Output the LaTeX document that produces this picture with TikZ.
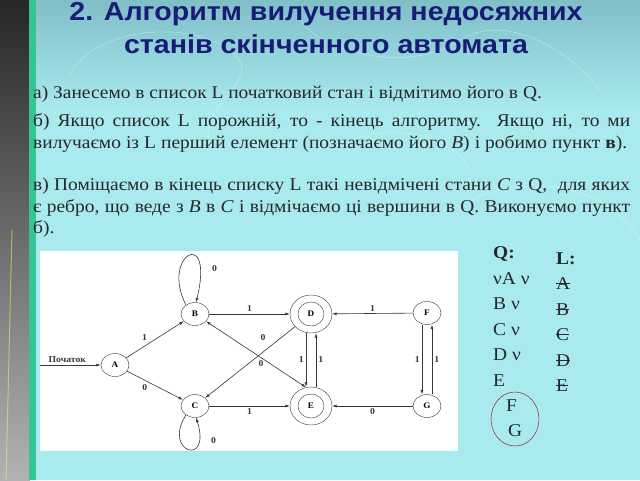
\documentclass[tikz,border=0pt]{standalone}
\usepackage{fontspec}
\setmainfont{Liberation Serif}[FakeStretch=1.08]
\newfontfamily\headfont{Liberation Sans}[FakeStretch=1.1]
\usepackage{tikz}
\usetikzlibrary{arrows.meta}
\usetikzlibrary{shapes}
\usetikzlibrary{calc}
\definecolor{slidetop}{RGB}{128,190,200}
\definecolor{slidebg}{RGB}{168,234,238}
\definecolor{titleblue}{RGB}{24,28,118}
\definecolor{stripgreen}{RGB}{52,196,150}
\definecolor{textgray}{RGB}{40,40,40}
\definecolor{edgegray}{RGB}{55,55,55}
\tikzstyle{vertex}=[draw=edgegray,ellipse,minimum width=28pt,minimum height=23pt,inner sep=0pt,font=\fontsize{8.5}{8.5}\selectfont\bfseries]
\tikzstyle{final}=[vertex,minimum width=42pt,minimum height=38pt]
\tikzstyle{lbl}=[font=\fontsize{9}{9}\selectfont\bfseries,text=edgegray,inner sep=2pt]
\tikzstyle{line}=[anchor=base west,inner sep=0pt,text=textgray,font=\fontsize{18}{22}\selectfont]
\tikzstyle{listtxt}=[anchor=base west,inner sep=0pt,text=textgray,font=\fontsize{18}{18}\selectfont]
\tikzstyle{heading}=[anchor=base,font=\headfont\bfseries\fontsize{26}{30}\selectfont,text=titleblue]

\begin{document}
\begin{tikzpicture}[x=1pt,y=-1pt,>={Latex[length=4.5pt,width=3pt]}]
	\useasboundingbox (0,0) rectangle (640,480);
	% slide background
	\shade[top color=slidetop,bottom color=slidebg] (0,0) rectangle (640,110);
	\fill[slidebg] (0,110) rectangle (640,480);
	\begin{scope}[white,opacity=.35,line width=.6pt]
		\draw (70,75) .. controls (90,30) and (190,15) .. (235,55) .. controls (265,85) and (185,110) .. (215,150);
		\draw (300,20) .. controls (330,60) and (420,70) .. (460,40) .. controls (500,15) and (560,40) .. (600,90);
		\draw (470,200) .. controls (540,170) and (610,190) .. (640,240);
		\draw (330,150) .. controls (380,120) and (450,130) .. (470,170);
	\end{scope}
	% left strip
	\shade[top color=black!85,bottom color=gray!60] (0,0) rectangle (30,480);
	\fill[stripgreen] (29,0) rectangle (36,480);
	\draw[yellow!70,line width=1pt,opacity=.5] (12,230) -- (6,480);
	% title
	\node[heading] (title1) at (326,20) {2. Алгоритм вилучення недосяжних};
	\node[heading] (title2) at (326,53) {станів скінченного автомата};
	% algorithm text
	\node[line] (pa) at (33,98) {а) Занесемо в список L початковий стан і відмітимо його в Q.};
	\node[line] (pb1) at (33,126) {\makebox[597pt][s]{б) Якщо список L порожній, то - кінець алгоритму. Якщо ні, то ми}};
	\node[line] (pb2) at (33,148) {\makebox[594pt][s]{вилучаємо із L перший елемент (позначаємо його \textit{B}) і робимо пункт \textbf{в}).}};
	\node[line] (pc1) at (33,190) {\makebox[597pt][s]{в) Поміщаємо в кінець списку L такі невідмічені стани \textit{C} з Q,\ \ для яких}};
	\node[line] (pc2) at (33,212) {\makebox[597pt][s]{є ребро, що веде з \textit{B} в \textit{C} і відмічаємо ці вершини в Q. Виконуємо пункт}};
	\node[line] (pc3) at (33,233) {б).};
	% automaton
	\fill[white] (40,251) rectangle (458,451);
	\node[vertex] (A) at (115,365) {A};
	\node[vertex] (B) at (195,314) {B};
	\node[vertex] (C) at (195,406) {C};
	\node[final] (D) at (311,314) {};
	\node[final] (E) at (311,406) {};
	\node[vertex] (F) at (427,313) {F};
	\node[vertex] (G) at (427,406) {G};
	\node[vertex,minimum width=26pt,minimum height=24pt] (Din) at (D.center) {D};
	\node[vertex,minimum width=26pt,minimum height=24pt] (Ein) at (E.center) {E};
	\coordinate (start) at (40,365);
	\begin{scope}[edgegray,semithick]
		\draw[->] (start) -- node[lbl,above,pos=0.45]{Початок} (A);
		\draw[->] (A) -- node[lbl,above left,pos=0.4]{1} (B);
		\draw[->] (A) -- node[lbl,below left,pos=0.4]{0} (C);
		\draw[->] (B) -- node[lbl,above]{1} (D);
		\draw[->] (D) -- node[lbl,above left=3pt,pos=0.27]{0} (C);
		\draw[<->] (B) -- node[lbl,below=1pt,pos=0.55]{0} (E.105);
		\draw[->] (C) -- node[lbl,below]{1} (E);
		\draw[->] ([xshift=-5pt]D.south) -- node[lbl,left]{1} ([xshift=-5pt]E.north);
		\draw[->] ([xshift=5pt]E.north) -- node[lbl,right]{1} ([xshift=5pt]D.south);
		\draw[->] (F) -- node[lbl,above]{1} (D);
		\draw[->] (G) -- node[lbl,below]{0} (E);
		\draw[->] ([xshift=-5pt]F.south) -- node[lbl,left]{1} ([xshift=-5pt]G.north);
		\draw[->] ([xshift=5pt]G.north) -- node[lbl,right]{1} ([xshift=5pt]F.south);
		\draw[->] (B.135) .. controls (160,255) and (215,225) .. node[lbl,pos=0.8,right=10pt]{0} (B.85);
		\draw[->] (C.225) .. controls (162,452) and (212,468) .. node[lbl,pos=0.8,right=10pt]{0} (C.275);
	\end{scope}
	% lists Q and L
	\node[listtxt,font=\fontsize{18}{18}\selectfont\bfseries] (qhead) at (493,258) {Q:};
	\foreach \t [count=\i] in {{νA ν},{B ν},{C ν},{D ν},{E}}
		\node[listtxt] (q\i) at (493,258.5+25.5*\i) {\t};
	\node[listtxt] (qF) at (506,411) {F};
	\node[listtxt] (qG) at (508,436) {G};
	\draw[red!60!black,thin] (515,419) ellipse (24 and 27);
	\node[listtxt,font=\fontsize{18}{18}\selectfont\bfseries] (lhead) at (556,264) {L:};
	\foreach \t [count=\i] in {A,B,C,D,E}{
		\node[listtxt] (l\i) at (556,264+25.5*\i) {\t};
		\draw[textgray,thin] ([yshift=6pt]l\i.base west) -- ([yshift=6pt]l\i.base east);
	}
\end{tikzpicture}
\end{document}
